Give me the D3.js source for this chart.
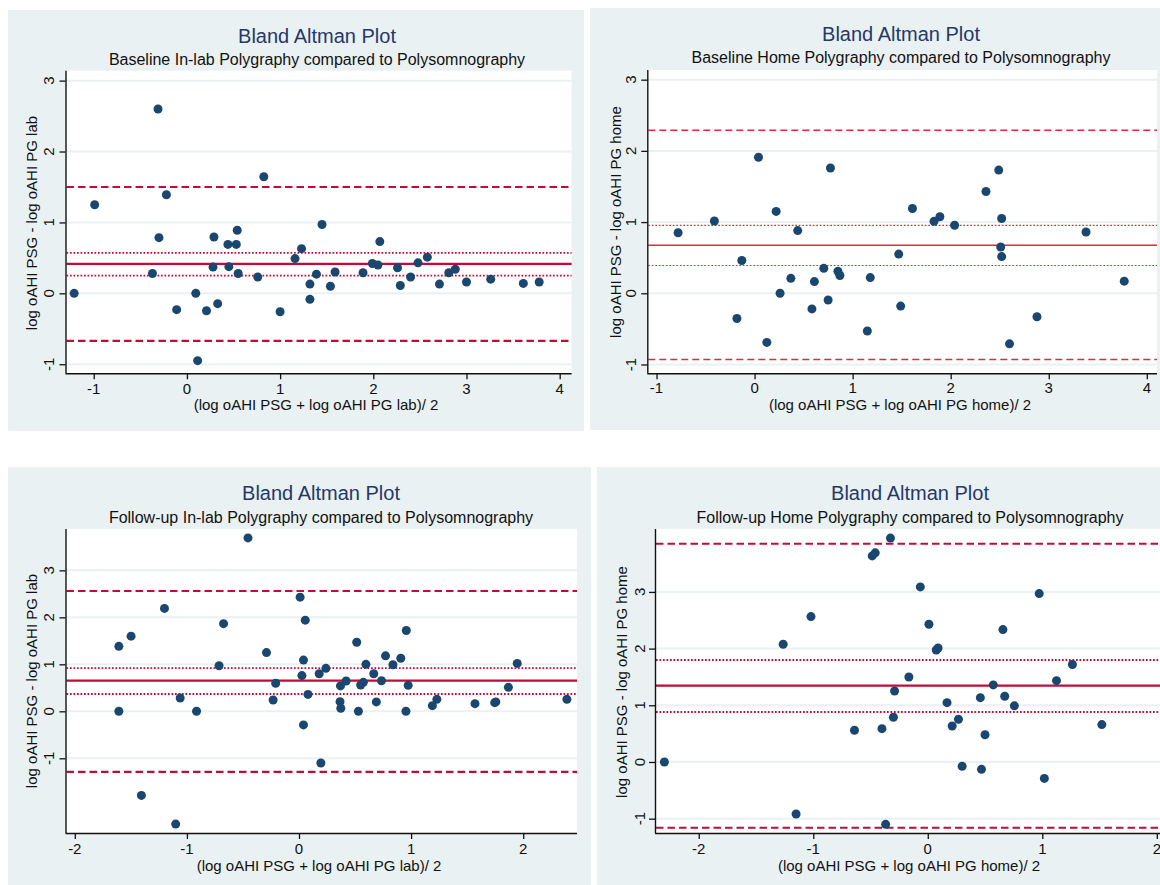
<!DOCTYPE html>
<html>
<head>
<meta charset="utf-8">
<script src="https://cdn.jsdelivr.net/npm/d3@7.9.0/dist/d3.min.js"></script>
<style>
  body { margin: 0; background: #fff; }
  svg { display: block; font-family: "Liberation Sans", Arial, sans-serif; }
</style>
</head>
<body>
<svg id="chart" width="1160" height="885"></svg>
<script>
// --- data ---
const baseLabMean = [-1.21, -0.99, -0.31, -0.22, -0.30, -0.37, -0.11, 0.095, 0.115, 0.21, 0.33, 0.29, 0.28, 0.44, 0.45,
  0.53, 0.54, 0.55, 0.76, 0.825, 1.00, 1.16, 1.23, 1.32, 1.32, 1.39, 1.45, 1.54, 1.59, 1.89, 1.99, 2.05, 2.07,
  2.26, 2.29, 2.40, 2.48, 2.58, 2.71, 2.81, 2.88, 3.00, 3.26, 3.61, 3.78];
const baseLabDiff = [0, 1.25, 2.60, 1.39, 0.785, 0.28, -0.23, 0, -0.95, -0.245, -0.146, 0.795, 0.37, 0.69, 0.376,
  0.69, 0.89, 0.28, 0.23, 1.645, -0.26, 0.49, 0.63, 0.13, -0.085, 0.27, 0.97, 0.10, 0.30, 0.29, 0.42, 0.40, 0.73,
  0.36, 0.11, 0.23, 0.43, 0.51, 0.13, 0.29, 0.34, 0.16, 0.20, 0.14, 0.16];
const baseLabLines = [1.50, 0.57, 0.414, 0.25, -0.67];

const baseHomeMean = [-0.78, -0.41, -0.13, -0.18, 0.04, 0.125, 0.22, 0.26, 0.37, 0.44, 0.585, 0.61, 0.706, 0.75,
  0.774, 0.85, 0.87, 1.15, 1.18, 1.47, 1.49, 1.61, 1.83, 1.89, 2.04, 2.36, 2.49, 2.52, 2.51, 2.52, 2.60, 2.88,
  3.38, 3.77];
const baseHomeDiff = [0.85, 1.015, 0.46, -0.355, 1.91, -0.69, 1.15, 0, 0.21, 0.88, -0.22, 0.164, 0.35, -0.094,
  1.76, 0.31, 0.25, -0.53, 0.22, 0.55, -0.18, 1.19, 1.01, 1.075, 0.955, 1.43, 1.73, 1.05, 0.65, 0.515, -0.71,
  -0.33, 0.86, 0.17];
const baseHomeLines = [2.29, 0.955, 0.674, 0.39, -0.93];

const followLabMean = [-1.607, -1.607, -1.498, -1.406, -1.20, -1.10, -1.06, -0.914, -0.713, -0.673, -0.455, -0.29,
  -0.231, -0.208, 0.01, 0.056, 0.04, 0.026, 0.04, 0.08, 0.18, 0.195, 0.24, 0.37, 0.366, 0.373, 0.42, 0.515, 0.53,
  0.55, 0.574, 0.597, 0.667, 0.69, 0.736, 0.772, 0.838, 0.908, 0.957, 0.974, 0.954, 1.19, 1.23, 1.57, 1.746,
  1.756, 1.868, 1.947, 2.39];
const followLabDiff = [1.383, 0, 1.60, -1.79, 2.19, -2.40, 0.284, 0, 0.97, 1.865, 3.69, 1.25, 0.24, 0.596, 2.43,
  1.94, 1.09, 0.76, -0.29, 0.36, 0.80, -1.10, 0.915, 0.54, 0.206, 0.064, 0.645, 1.47, 0, 0.56, 0.617, 1.0, 0.80,
  0.20, 0.65, 1.18, 0.99, 1.13, 1.72, 0.553, 0, 0.12, 0.255, 0.163, 0.184, 0.20, 0.51, 1.02, 0.255];
const followLabLines = [2.56, 0.92, 0.652, 0.369, -1.29];

const followHomeMean = [-2.30, -1.263, -1.15, -1.02, -0.64, -0.485, -0.459, -0.40, -0.368, -0.326, -0.30, -0.29,
  -0.165, -0.065, 0.01, 0.074, 0.09, 0.168, 0.213, 0.268, 0.30, 0.459, 0.469, 0.50, 0.572, 0.656, 0.672, 0.756,
  0.973, 1.018, 1.124, 1.263, 1.52];
const followHomeDiff = [0, 2.076, -0.918, 2.565, 0.559, 3.635, 3.69, 0.588, -1.10, 3.95, 0.788, 1.253, 1.50,
  3.088, 2.43, 1.976, 2.01, 1.047, 0.635, 0.753, -0.076, 1.135, -0.13, 0.48, 1.36, 2.335, 1.16, 0.99, 2.97, -0.29,
  1.435, 1.72, 0.66];
const followHomeLines = [3.85, 1.80, 1.347, 0.882, -1.16];

const lineKinds = ["dash", "dot", "solid", "dot", "dash"];
const yTicks = [-1, 0, 1, 2, 3];
const xTicksBase = [-1, 0, 1, 2, 3, 4];
const xTicksFollow = [-2, -1, 0, 1, 2];

const mainTitle = "Bland Altman Plot";
const subTitles = [
  "Baseline In-lab Polygraphy compared to Polysomnography",
  "Baseline Home Polygraphy compared to Polysomnography",
  "Follow-up In-lab Polygraphy compared to Polysomnography",
  "Follow-up Home Polygraphy compared to Polysomnography"
];
const xTitles = [
  "(log oAHI PSG + log oAHI PG lab)/ 2",
  "(log oAHI PSG + log oAHI PG home)/ 2",
  "(log oAHI PSG + log oAHI PG lab)/ 2",
  "(log oAHI PSG + log oAHI PG home)/ 2"
];
const yTitles = [
  "log oAHI PSG - log oAHI PG lab",
  "log oAHI PSG - log oAHI PG home",
  "log oAHI PSG - log oAHI PG lab",
  "log oAHI PSG - log oAHI PG home"
];

// layout for each panel (pixels)
const panels = [
  { xs: baseLabMean, ys: baseLabDiff, lines: baseLabLines, xt: xTicksBase,
    bg: [8, 10, 584, 431], plot: [65.5, 70.7, 571.6, 373.3],
    xd: [-1.303, 4.128], yd: [-1.128, 3.14],
    titleX: 317, titleY: 43, subY: 65, yTitleX: 37, yTitleY: 223, yLabX: 54, xLabY: 394, xTitleX: 316, xTitleY: 410,
    red: "#c20b37", lw: 2.2, dash: "7.5,4" },
  { xs: baseHomeMean, ys: baseHomeDiff, lines: baseHomeLines, xt: xTicksBase,
    bg: [590, 8, 1160, 430], plot: [647.3, 70, 1157, 373.3],
    xd: [-1.094, 4.104], yd: [-1.124, 3.136],
    titleX: 901, titleY: 41, subY: 63, yTitleX: 621, yTitleY: 222, yLabX: 636, xLabY: 393, xTitleX: 900, xTitleY: 410,
    red: "#e3283f", lw: 1.4, dash: "7,4" },
  { xs: followLabMean, ys: followLabDiff, lines: followLabLines, xt: xTicksFollow,
    bg: [8, 467, 591, 885], plot: [65.5, 529, 577, 833],
    xd: [-2.083, 2.48], yd: [-2.59, 3.88],
    titleX: 321, titleY: 500, subY: 523, yTitleX: 37, yTitleY: 681, yLabX: 54, xLabY: 854, xTitleX: 319, xTitleY: 871,
    red: "#c20b37", lw: 2.2, dash: "7.5,4" },
  { xs: followHomeMean, ys: followHomeDiff, lines: followHomeLines, xt: xTicksFollow,
    bg: [597, 467, 1160, 885], plot: [655, 529, 1163, 833],
    xd: [-2.382, 2.054], yd: [-1.253, 4.11],
    titleX: 910, titleY: 500, subY: 523, yTitleX: 627, yTitleY: 682, yLabX: 645, xLabY: 854, xTitleX: 909, xTitleY: 871,
    red: "#c20b37", lw: 2.2, dash: "7.5,4" }
];

const svg = d3.select("#chart");

panels.forEach((p, i) => {
  const g = svg.append("g");
  const [bx0, by0, bx1, by1] = p.bg;
  const [px0, py0, px1, py1] = p.plot;

  g.append("rect")
    .attr("x", bx0).attr("y", by0)
    .attr("width", bx1 - bx0).attr("height", by1 - by0)
    .attr("fill", "#eaf1f3");

  g.append("rect")
    .attr("x", px0).attr("y", py0)
    .attr("width", px1 - px0).attr("height", py1 - py0)
    .attr("fill", "#fff");

  const x = d3.scaleLinear().domain(p.xd).range([px0, px1]);
  const y = d3.scaleLinear().domain(p.yd).range([py1, py0]);

  // gridlines
  g.selectAll(".grid").data(yTicks).join("line")
    .attr("x1", px0).attr("x2", px1)
    .attr("y1", d => y(d)).attr("y2", d => y(d))
    .attr("stroke", "#eaf1f3").attr("stroke-width", 2);

  // reference lines: limits of agreement, CI of mean, mean
  p.lines.forEach((v, k) => {
    const kind = lineKinds[k];
    g.append("line")
      .attr("x1", px0 + 1).attr("x2", px1)
      .attr("y1", y(v)).attr("y2", y(v))
      .attr("stroke", p.red)
      .attr("stroke-width", kind === "dot" ? p.lw * 0.85 : p.lw)
      .attr("stroke-dasharray", kind === "dash" ? p.dash : kind === "dot" ? "1.7,1.8" : null);
  });

  // points
  g.selectAll(".pt").data(p.xs.map((v, k) => [v, p.ys[k]])).join("circle")
    .attr("cx", d => x(d[0])).attr("cy", d => y(d[1]))
    .attr("r", 4.5)
    .attr("fill", "#1a476f");

  // axes
  const yAxis = g.append("g")
    .attr("transform", `translate(${px0},0)`)
    .call(d3.axisLeft(y).tickValues(yTicks).tickSize(6).tickFormat(""));
  const xAxis = g.append("g")
    .attr("transform", `translate(0,${py1})`)
    .call(d3.axisBottom(x).tickValues(p.xt).tickSize(6).tickFormat(""));
  [yAxis, xAxis].forEach(a => {
    a.select(".domain").attr("stroke", "#111").attr("stroke-width", 1.4)
      .attr("d", a === yAxis ? `M0.5,${py0}V${py1}` : `M${px0},0.5H${px1}`);
    a.selectAll(".tick line").attr("stroke", "#111").attr("stroke-width", 1.3);
  });

  // y tick labels, rotated like Stata
  g.selectAll(".ylab").data(yTicks).join("text")
    .attr("transform", d => `translate(${p.yLabX},${y(d)}) rotate(-90)`)
    .attr("text-anchor", "middle")
    .attr("font-size", 15).attr("fill", "#111")
    .text(d => d < 0 ? "-" + Math.abs(d) : d);

  g.selectAll(".xlab").data(p.xt).join("text")
    .attr("x", d => x(d)).attr("y", p.xLabY)
    .attr("text-anchor", "middle")
    .attr("font-size", 15).attr("fill", "#111")
    .text(d => d < 0 ? "-" + Math.abs(d) : d);

  // titles
  g.append("text")
    .attr("x", p.titleX).attr("y", p.titleY)
    .attr("text-anchor", "middle")
    .attr("font-size", 20).attr("fill", "#25386a")
    .text(mainTitle);
  g.append("text")
    .attr("x", p.titleX).attr("y", p.subY)
    .attr("text-anchor", "middle")
    .attr("font-size", 16).attr("fill", "#111")
    .text(subTitles[i]);
  g.append("text")
    .attr("x", p.xTitleX).attr("y", p.xTitleY)
    .attr("text-anchor", "middle")
    .attr("font-size", 15).attr("fill", "#111")
    .text(xTitles[i]);
  g.append("text")
    .attr("transform", `translate(${p.yTitleX},${p.yTitleY}) rotate(-90)`)
    .attr("text-anchor", "middle")
    .attr("font-size", 15).attr("fill", "#111")
    .text(yTitles[i]);
});
</script>
</body>
</html>
